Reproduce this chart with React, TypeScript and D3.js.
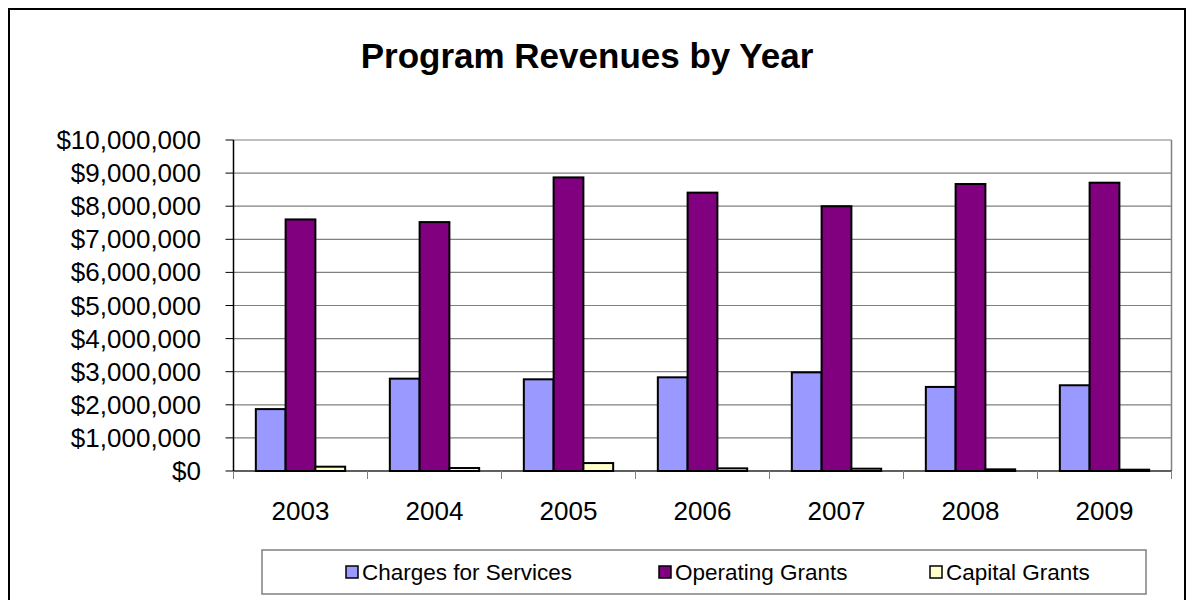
import React from "react";
import * as d3 from "d3";

const years = ["2003", "2004", "2005", "2006", "2007", "2008", "2009"];
const chargesForServices = [1870000, 2790000, 2770000, 2830000, 2980000, 2540000, 2590000];
const operatingGrants = [7600000, 7520000, 8870000, 8410000, 8000000, 8670000, 8710000];
const capitalGrants = [130000, 90000, 240000, 80000, 70000, 50000, 40000];
const seriesNames = ["Charges for Services", "Operating Grants", "Capital Grants"];
const seriesColors = ["#9999FF", "#800080", "#FFFFCC"];
const yTicks = [0, 1000000, 2000000, 3000000, 4000000, 5000000, 6000000, 7000000, 8000000, 9000000, 10000000];

const W = 1187;
const H = 600;
const plot = { left: 233.5, right: 1171.5, top: 140, bottom: 471 };
const FONT = "Arial, 'Liberation Sans', sans-serif";

export default function App() {
  const series = [chargesForServices, operatingGrants, capitalGrants];
  const x = d3.scaleBand<string>().domain(years).range([plot.left, plot.right]).paddingInner(0).paddingOuter(0);
  const bw = x.bandwidth();
  const groupW = bw * (2 / 3);
  const xs = d3.scaleBand<number>().domain([0, 1, 2]).range([0, groupW]).padding(0);
  const y = d3.scaleLinear().domain([0, 10000000]).range([plot.bottom, plot.top]);
  const fmt = (v: number) => "$" + d3.format(",")(v);

  const legendItems = [
    { sx: 346, tx: 362 },
    { sx: 659, tx: 675 },
    { sx: 930, tx: 946 },
  ];

  return (
    <svg width={W} height={H} style={{ position: "absolute", left: 0, top: 0 }} fontFamily={FONT}>
      <rect x={0} y={0} width={W} height={H} fill="#fff" />
      <rect x={9} y={9} width={1176} height={620} fill="#fff" stroke="#000" strokeWidth={2} />
      <text x={587} y={68} textAnchor="middle" fontSize={35} fontWeight="bold" fill="#000">
        Program Revenues by Year
      </text>
      {/* gridlines */}
      {yTicks.map((t) => (
        <line key={"g" + t} x1={plot.left} x2={plot.right} y1={y(t)} y2={y(t)} stroke="#808080" strokeWidth={1.2} />
      ))}
      <line x1={plot.right} x2={plot.right} y1={plot.top} y2={plot.bottom} stroke="#808080" strokeWidth={1.5} />
      {/* bars */}
      {years.map((yr, i) => (
        <g key={yr} transform={`translate(${(x(yr) as number) + (bw - groupW) / 2},0)`}>
          {series.map((s, j) => (
            <rect
              key={j}
              x={xs(j) as number}
              y={y(s[i])}
              width={xs.bandwidth()}
              height={plot.bottom - y(s[i])}
              fill={seriesColors[j]}
              stroke="#000"
              strokeWidth={2}
            />
          ))}
        </g>
      ))}
      {/* axes */}
      <line x1={plot.left} x2={plot.left} y1={plot.top} y2={plot.bottom} stroke="#000" strokeWidth={1.5} />
      <line x1={plot.left} x2={plot.right} y1={plot.bottom} y2={plot.bottom} stroke="#000" strokeWidth={1.2} />
      {yTicks.map((t) => (
        <g key={"t" + t}>
          <line x1={plot.left - 8} x2={plot.left} y1={y(t)} y2={y(t)} stroke="#000" strokeWidth={1} />
          <text x={201} y={y(t) + 9} textAnchor="end" fontSize={26} fill="#000">
            {fmt(t)}
          </text>
        </g>
      ))}
      {years.concat(["end"]).map((yr, i) => {
        const xx = plot.left + i * bw;
        return <line key={"xt" + i} x1={xx} x2={xx} y1={plot.bottom} y2={plot.bottom + 8} stroke="#808080" strokeWidth={1} />;
      })}
      {years.map((yr) => (
        <text key={"xl" + yr} x={(x(yr) as number) + bw / 2} y={520} textAnchor="middle" fontSize={26} fill="#000">
          {yr}
        </text>
      ))}
      {/* legend */}
      <rect x={262} y={550} width={884} height={44} fill="#fff" stroke="#808080" strokeWidth={1.5} />
      {seriesNames.map((n, j) => (
        <g key={n}>
          <rect x={legendItems[j].sx} y={566} width={12} height={12} fill={seriesColors[j]} stroke="#000" strokeWidth={1.5} />
          <text x={legendItems[j].tx} y={580} fontSize={22.5} fill="#000">
            {n}
          </text>
        </g>
      ))}
    </svg>
  );
}
